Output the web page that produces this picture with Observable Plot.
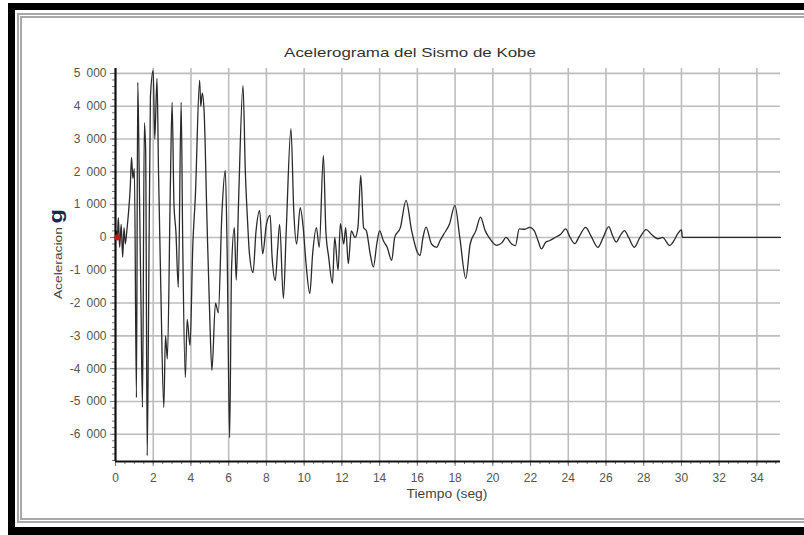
<!DOCTYPE html>
<html>
<head>
<meta charset="utf-8">
<script src="https://cdn.jsdelivr.net/npm/d3@7"></script>
<script src="https://cdn.jsdelivr.net/npm/@observablehq/plot@0.6"></script>
<style>
  body { margin: 0; background: #fff; }
  #page { position: relative; width: 804px; height: 535px; overflow: hidden; background: #fff; font-family: "Liberation Sans", Arial, sans-serif; }
  #black { position: absolute; left: 8px; top: 3px; width: 820px; height: 540px; background: #000; }
  #white { position: absolute; left: 15px; top: 10px; width: 820px; height: 517px; background: #fff; }
  #dbl { position: absolute; left: 17px; top: 13px; width: 820px; height: 500px; border: 5px double #a8a8a8; }
  #chart { position: absolute; left: 0; top: 0; }
  #title { position: absolute; left: 210px; width: 400px; top: 45px; text-align: center; font-size: 13px; color: #333; transform: scaleX(1.3); white-space: nowrap; }
  #xlabel { position: absolute; left: 347px; width: 200px; top: 487px; text-align: center; font-size: 12px; color: #444; transform: scaleX(1.15); white-space: nowrap; }
  #ylabel { position: absolute; left: 56px; top: 254px; transform: translate(-50%, -50%) rotate(-90deg) scaleX(1.25); white-space: nowrap; font-size: 11px; color: #444; }
  #ylabel b { font-size: 19px; color: #1b2650; font-weight: bold; margin-left: 3px; }
</style>
</head>
<body>
<div id="page">
  <div id="black"></div>
  <div id="white"></div>
  <div id="dbl"></div>
  <div id="chart"></div>
  <div id="title">Acelerograma del Sismo de Kobe</div>
  <div id="xlabel">Tiempo (seg)</div>
  <div id="ylabel">Aceleracion<b>g</b></div>
</div>
<script>
// Time (s) and acceleration values
const times = [
  0.00, 0.05, 0.10, 0.15, 0.22, 0.30, 0.38, 0.45, 0.52, 0.60, 0.69, 0.78, 0.85, 0.92, 1.00,
  1.11, 1.18, 1.25, 1.35, 1.43, 1.53, 1.60, 1.68, 1.75, 1.85, 2.00, 2.08, 2.20, 2.28, 2.40,
  2.56, 2.65, 2.75, 2.91, 3.00, 3.10, 3.20, 3.33, 3.48, 3.56, 3.70, 3.80, 3.95, 4.10, 4.23,
  4.46, 4.52, 4.60, 4.70, 4.85, 5.00, 5.11, 5.30, 5.45, 5.64, 5.82, 5.92, 6.05, 6.15, 6.30,
  6.40, 6.52, 6.76, 6.88, 7.00, 7.10, 7.29, 7.45, 7.64, 7.80, 8.00, 8.20, 8.30, 8.47, 8.60,
  8.70, 8.90, 9.05, 9.30, 9.45, 9.60, 9.79, 9.95, 10.10, 10.30, 10.45, 10.65, 10.80, 11.02, 11.15,
  11.30, 11.50, 11.62, 11.80, 11.92, 12.10, 12.20, 12.34, 12.50, 12.70, 12.85, 13.00, 13.15, 13.30, 13.50,
  13.67, 13.85, 14.00, 14.20, 14.40, 14.64, 14.80, 15.10, 15.40, 15.70, 16.00, 16.14, 16.30, 16.46, 16.75,
  17.02, 17.20, 17.40, 17.70, 17.99, 18.25, 18.57, 18.80, 19.10, 19.35, 19.60, 19.80, 20.20, 20.50, 20.70,
  21.00, 21.20, 21.40, 21.70, 21.96, 22.20, 22.40, 22.58, 22.80, 23.00, 23.30, 23.60, 23.86, 24.10, 24.34,
  24.60, 24.92, 25.20, 25.57, 25.85, 26.15, 26.35, 26.54, 26.75, 26.98, 27.20, 27.50, 27.80, 28.13, 28.40,
  28.75, 29.00, 29.37, 29.60, 29.80, 30.00, 30.05, 35.25
];
const accel = [
  0, 200, 0, 600, -300, 400, -600, 300, -200, 200, 760, 1500, 2440, 1800, 2100,
  -4880, 4730, 2200, -2000, -5180, 3500, 2600, -6650, -2500, 4270, 5090, 3000, 4850, 2000, -1500,
  -5180, -3000, -3700, 1650, 4120, 1000, 200, -1520, 4120, 0, -4270, -2500, -3300, -200, 1220,
  4790, 4000, 4400, 3800, 500, -2500, -4050, -2000, -2300, 730, 2040, -500, -6100, -1000, 300,
  -1300, 1030, 4630, 2040, 500, -500, -1070, 200, 820, -500, 400, 670, -600, -1310, -300,
  400, -1860, 200, 3320, 800, -200, 910, 300, -800, -1710, -500, 300, -300, 2500, 200,
  -600, -1400, 0, -1000, 420, -200, 300, -800, 200, 0, 300, 1890, 300, 200, -500,
  -900, -200, 200, -100, -300, -700, 0, 300, 1130, 200, -450, -550, 0, 315, -200,
  -300, -100, 100, 400, 980, 0, -1250, -200, 200, 620, 200, 0, -240, -150, 0,
  -200, -250, 260, 250, 310, 200, -100, -350, -150, -100, 0, 100, 260, 0, -190,
  50, 310, 50, -300, 0, 330, 50, -140, 50, 210, 0, -300, 0, 240, 100,
  -40, 0, -240, -100, 110, 230, 0, 0
];
const xTicks = [0, 2, 4, 6, 8, 10, 12, 14, 16, 18, 20, 22, 24, 26, 28, 30, 32, 34];
const yTicks = [-6000, -5000, -4000, -3000, -2000, -1000, 0, 1000, 2000, 3000, 4000, 5000];
const xDomain = [0, 35.25];
const yDomain = [-6830, 5150];

const data = times.map((t, i) => ({t, a: accel[i]}));
const minorX = d3.range(0, 35.01, 0.5);
const minorY = d3.range(-6800, 5001, 200);
const fmt = d => (d < 0 ? "-" : "") + d3.format(",")(Math.abs(d)).replace(",", "\u2002");
const gridColor = "#bdbdbd";

const chart = Plot.plot({
  width: 804,
  height: 535,
  marginLeft: 115,
  marginRight: 24,
  marginTop: 68,
  marginBottom: 74,
  style: {background: "transparent", fontFamily: "'Liberation Sans', Arial, sans-serif", fontSize: "12px", color: "#555"},
  x: {domain: xDomain},
  y: {domain: yDomain},
  marks: [
    Plot.gridY(yTicks, {stroke: gridColor, strokeOpacity: 1, strokeWidth: 1.6}),
    Plot.gridX(xTicks.slice(1), {stroke: gridColor, strokeOpacity: 1, strokeWidth: 1.6}),
    Plot.axisX(minorX, {tickSize: 3, tickFormat: () => "", stroke: "#777", label: null}),
    Plot.axisY(minorY, {tickSize: 3, tickFormat: () => "", stroke: "#777", label: null}),
    Plot.axisX(xTicks, {tickSize: 5, tickPadding: 7, tickFormat: d => d, label: null, stroke: "#777"}),
    Plot.axisY(yTicks, {tickSize: 5, tickPadding: 4, tickFormat: fmt, label: null, stroke: "#777"}),
    Plot.line(data, {x: "t", y: "a", stroke: "#2a2a2a", strokeWidth: 1.3, curve: "monotone-x"}),
    Plot.ruleX([xDomain[0]], {stroke: "#111", strokeWidth: 2.2}),
    Plot.ruleY([yDomain[0]], {stroke: "#111", strokeWidth: 2.2}),
    Plot.dot(data.slice(2, 3), {x: "t", y: "a", r: 3, fill: "#d01010", stroke: "none"})
  ]
});
document.getElementById("chart").appendChild(chart);
</script>
</body>
</html>
